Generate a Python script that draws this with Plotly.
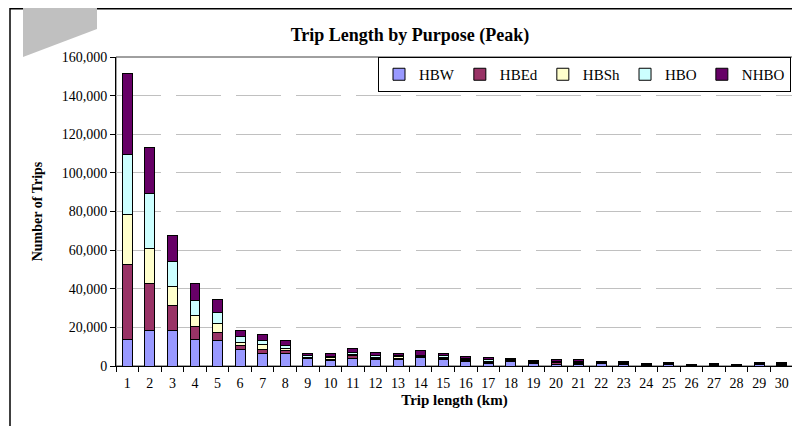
import plotly.graph_objects as go

categories = [str(i) for i in range(1, 31)]
hbw = [13800, 18500, 18500, 13500, 13300, 8600, 6600, 6600, 3700, 2900,
       3700, 3500, 3500, 4200, 3200, 2500, 1500, 2500, 1300, 900,
       900, 1100, 900, 400, 700, 300, 500, 300, 700, 500]
hbed = [38800, 24300, 12600, 6900, 4100, 2200, 2200, 1400, 500, 700,
        1500, 600, 500, 600, 800, 500, 500, 300, 300, 800,
        500, 300, 300, 200, 200, 150, 200, 150, 200, 250]
hbsh = [25900, 17800, 10200, 5500, 4800, 1600, 2100, 900, 400, 700,
        800, 500, 700, 300, 500, 300, 300, 200, 200, 300,
        300, 200, 200, 100, 100, 100, 100, 100, 100, 150]
hbo = [31200, 28500, 12600, 7800, 5400, 2800, 2400, 1600, 700, 800,
       1200, 800, 600, 500, 700, 500, 900, 300, 400, 500,
       600, 300, 300, 200, 250, 150, 250, 150, 250, 300]
nhbo = [41900, 24200, 13800, 8800, 6700, 3100, 3100, 2600, 1400, 1300,
        1700, 1400, 1200, 2300, 1300, 1000, 1000, 600, 650, 1000,
        900, 600, 500, 400, 400, 250, 400, 250, 400, 450]

series = [("HBW", hbw, "#9999FF"), ("HBEd", hbed, "#993366"),
          ("HBSh", hbsh, "#FFFFCC"), ("HBO", hbo, "#CCFFFF"),
          ("NHBO", nhbo, "#660066")]

FONT = "Liberation Serif, Times New Roman, serif"
fig = go.Figure()
for name, vals, col in series:
    fig.add_trace(go.Bar(x=categories, y=vals, name=name,
                         marker=dict(color=col, line=dict(color="black", width=1))))

# page has an 8px body margin: figure coords = page coords - 8
OFF = 8
W, H = 800 - OFF, 426 - OFF
L, R, T, B = 116 - OFF, 793 - OFF, 57 - OFF, 366 - OFF
pw, ph = R - L, B - T
def px(x):
    return (x - OFF - L) / pw
def py(y):
    return (B - (y - OFF)) / ph

fig.update_layout(
    width=W, height=H,
    margin=dict(l=L, r=W - R, t=T, b=H - B),
    barmode="stack", bargap=0.56,
    paper_bgcolor="white", plot_bgcolor="white",
    font=dict(family=FONT, color="black", size=14),
    title=dict(text="<b>Trip Length by Purpose (Peak)</b>", xref="container",
               x=(410 - OFF) / W, xanchor="center",
               yref="container", y=1 - (35 - OFF) / H, yanchor="middle",
               font=dict(size=18, family=FONT)),
    legend=dict(orientation="h", x=1 - 2 / pw, xanchor="right", y=1, yanchor="top",
                bordercolor="black", borderwidth=1, bgcolor="white",
                font=dict(size=15, family=FONT), traceorder="normal",
                itemwidth=30, tracegroupgap=0),
    showlegend=True,
)
fig.update_xaxes(
    type="category", range=[-0.5, 29.5], showline=True, linecolor="black", linewidth=1,
    ticks="outside", tickson="boundaries", ticklen=5, tickcolor="black",
    tickfont=dict(size=14, family=FONT), tickangle=0, ticklabelstandoff=4,
    title=dict(text="<b>Trip length (km)</b>", font=dict(size=15, family=FONT), standoff=4),
    showgrid=False,
)
fig.update_yaxes(
    range=[0, 160000], dtick=20000, tickformat=",", showline=True, linecolor="black",
    linewidth=1, ticks="outside", ticklen=5, tickcolor="black",
    tickfont=dict(size=14, family=FONT),
    showgrid=True, gridcolor="#C0C0C0", griddash="45px,15px", gridwidth=1,
    zeroline=False,
    title=dict(text="<b>Number of Trips</b>", font=dict(size=14, family=FONT), standoff=15),
)

shapes = [
    dict(type="rect", xref="paper", yref="paper", x0=0, x1=1, y0=0, y1=1,
         line=dict(color="#404040", width=1), layer="below"),
    dict(type="line", xref="paper", yref="paper", x0=px(10), x1=px(800), y0=py(8.75), y1=py(8.75),
         line=dict(color="black", width=1.5)),
    dict(type="line", xref="paper", yref="paper", x0=px(10), x1=px(10), y0=py(8), y1=py(426),
         line=dict(color="black", width=1.5)),
    dict(type="path", xref="paper", yref="paper",
         path=f"M {px(23)} {py(0)} L {px(97)} {py(0)} L {px(97)} {py(29)} L {px(23)} {py(57)} Z",
         fillcolor="#C0C0C0", line=dict(width=0)),
]
fig.update_layout(shapes=shapes)

fig.write_html("out.html")
